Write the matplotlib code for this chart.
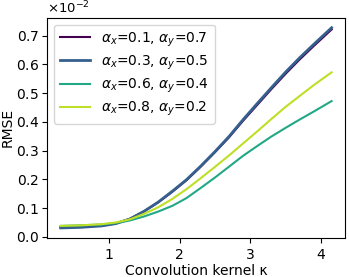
import numpy as np
import matplotlib
matplotlib.use("Agg")
import matplotlib.pyplot as plt
from matplotlib.ticker import MultipleLocator

# ── data (RMSE in units of 1e-2) ─────────────────────────────
kappa = [0.32, 0.6, 0.9, 1.1, 1.3, 1.5, 1.7, 1.9, 2.1, 2.3,
         2.5, 2.7, 2.9, 3.1, 3.3, 3.5, 3.7, 3.9, 4.15]

rmse_01_07 = [0.034, 0.035, 0.039, 0.047, 0.063, 0.089, 0.120, 0.157, 0.197, 0.244,
              0.294, 0.346, 0.404, 0.459, 0.514, 0.567, 0.617, 0.664, 0.721]
rmse_03_05 = [0.031, 0.033, 0.038, 0.046, 0.062, 0.089, 0.121, 0.159, 0.199, 0.246,
              0.296, 0.349, 0.408, 0.464, 0.519, 0.573, 0.623, 0.670, 0.727]
rmse_06_04 = [0.038, 0.040, 0.043, 0.048, 0.057, 0.071, 0.088, 0.108, 0.135, 0.170,
              0.206, 0.244, 0.282, 0.316, 0.349, 0.379, 0.408, 0.436, 0.472]
rmse_08_02 = [0.038, 0.040, 0.044, 0.050, 0.061, 0.080, 0.103, 0.132, 0.166, 0.204,
              0.243, 0.283, 0.325, 0.367, 0.410, 0.452, 0.490, 0.528, 0.572]

labels = [r"$\alpha_x$=0.1, $\alpha_y$=0.7",
          r"$\alpha_x$=0.3, $\alpha_y$=0.5",
          r"$\alpha_x$=0.6, $\alpha_y$=0.4",
          r"$\alpha_x$=0.8, $\alpha_y$=0.2"]

series = [rmse_01_07, rmse_03_05, rmse_06_04, rmse_08_02]
widths = [1.5, 2.0, 1.5, 1.5]
colors = plt.cm.viridis(np.linspace(0, 0.9, 4))

fig = plt.figure(figsize=(3.49, 2.77), dpi=100)
ax = fig.add_axes([0.135, 0.141, 0.854, 0.795])

for ys, lab, c, lw in zip(series, labels, colors, widths):
    ax.plot(kappa, np.array(ys) * 1e-2, color=c, linewidth=lw, label=lab)

ax.yaxis.set_major_locator(MultipleLocator(0.001))
ax.ticklabel_format(axis="y", style="sci", scilimits=(-2, -2), useMathText=True)
ax.yaxis.get_offset_text().set_fontsize(9.5)
ax.set_xticks([1, 2, 3, 4])
ax.tick_params(labelsize=10)
ax.tick_params(axis="y", pad=2.5)
ax.set_xlabel("Convolution kernel κ", fontsize=10, labelpad=2)
ax.set_ylabel("RMSE", fontsize=10, labelpad=0.5)
ax.legend(loc="upper left", fontsize=10, labelspacing=0.35, handlelength=2.2,
          borderaxespad=0.5)

fig.savefig("out.png", dpi=100)
